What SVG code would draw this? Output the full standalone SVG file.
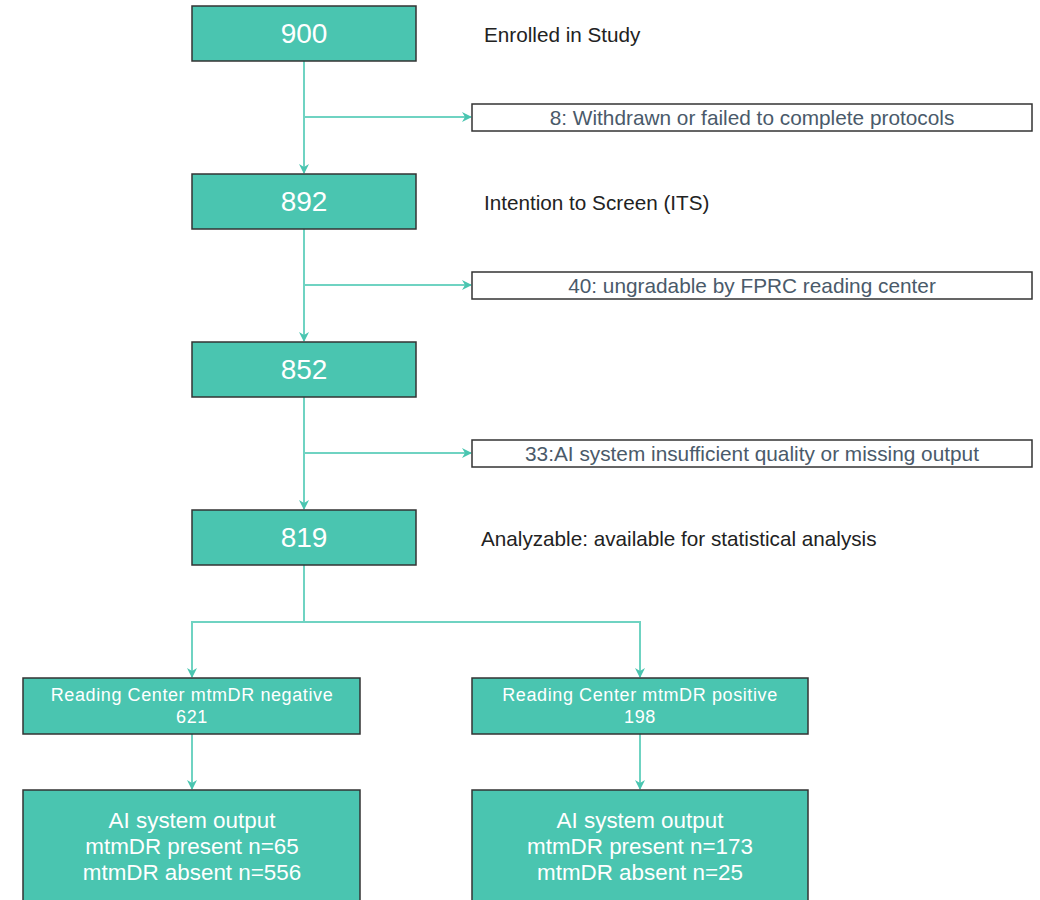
<svg xmlns="http://www.w3.org/2000/svg" width="1040" height="900" viewBox="0 0 1040 900">
<style>
.box{fill:#4ac5b0;stroke:#333;stroke-width:1.5}
.side{fill:#fff;stroke:#333;stroke-width:1.5}
.num{font-family:"Liberation Sans",Arial,sans-serif;font-size:28px;fill:#fff;text-anchor:middle}
.wt{font-family:"Liberation Sans",Arial,sans-serif;font-size:22.4px;fill:#fff;text-anchor:middle}
.st{font-family:"Liberation Sans",Arial,sans-serif;font-size:18px;letter-spacing:0.6px;fill:#fff;text-anchor:middle}
.lbl{font-family:"Liberation Sans",Arial,sans-serif;font-size:20.7px;fill:#222}
.sidet{font-family:"Liberation Sans",Arial,sans-serif;font-size:20.8px;fill:#4a5a6a;text-anchor:middle}
.ln{fill:none;stroke:#6fd3c2;stroke-width:2}
</style>
<defs>
<marker id="ah" markerWidth="10" markerHeight="10" refX="9" refY="5" orient="auto" markerUnits="userSpaceOnUse">
<path d="M0,0 L10,5 L0,10 L3,5 Z" fill="#4ac5b0"/>
</marker>
</defs>
<rect width="1040" height="900" fill="#fff"/>
<g id="connectors">
<path class="ln" d="M304,61 V173" marker-end="url(#ah)"/>
<path class="ln" d="M304,117 H471" marker-end="url(#ah)"/>
<path class="ln" d="M304,229 V341" marker-end="url(#ah)"/>
<path class="ln" d="M304,285 H471" marker-end="url(#ah)"/>
<path class="ln" d="M304,397 V509" marker-end="url(#ah)"/>
<path class="ln" d="M304,453 H471" marker-end="url(#ah)"/>
<path class="ln" d="M304,565 V622 H192 V677" marker-end="url(#ah)"/>
<path class="ln" d="M304,622 H640 V677" marker-end="url(#ah)"/>
<path class="ln" d="M192,734 V789" marker-end="url(#ah)"/>
<path class="ln" d="M640,734 V789" marker-end="url(#ah)"/>
</g>
<g id="n900"><rect class="box" x="192" y="6" width="224" height="55"/><text class="num" x="304" y="43">900</text></g>
<g id="l900"><text class="lbl" x="484" y="42">Enrolled in Study</text></g>
<g id="s8"><rect class="side" x="472" y="104" width="560" height="27"/><text class="sidet" x="752" y="125">8: Withdrawn or failed to complete protocols</text></g>
<g id="n892"><rect class="box" x="192" y="174" width="224" height="55"/><text class="num" x="304" y="211">892</text></g>
<g id="l892"><text class="lbl" x="484" y="210">Intention to Screen (ITS)</text></g>
<g id="s40"><rect class="side" x="472" y="272" width="560" height="27"/><text class="sidet" x="752" y="293">40: ungradable by FPRC reading center</text></g>
<g id="n852"><rect class="box" x="192" y="342" width="224" height="55"/><text class="num" x="304" y="379">852</text></g>
<g id="s33"><rect class="side" x="472" y="440" width="560" height="27"/><text class="sidet" x="752" y="461">33:AI system insufficient quality or missing output</text></g>
<g id="n819"><rect class="box" x="192" y="510" width="224" height="55"/><text class="num" x="304" y="547">819</text></g>
<g id="l819"><text class="lbl" x="481" y="546">Analyzable: available for statistical analysis</text></g>
<g id="neg"><rect class="box" x="23" y="678" width="337" height="56"/><text class="st" x="192" y="701">Reading Center mtmDR negative</text><text class="st" x="192" y="723">621</text></g>
<g id="pos"><rect class="box" x="472" y="678" width="336" height="56"/><text class="st" x="640" y="701">Reading Center mtmDR positive</text><text class="st" x="640" y="723">198</text></g>
<g id="aineg"><rect class="box" x="23" y="790" width="337" height="120"/><text class="wt" x="192" y="828">AI system output</text><text class="wt" x="192" y="854">mtmDR present n=65</text><text class="wt" x="192" y="880">mtmDR absent n=556</text></g>
<g id="aipos"><rect class="box" x="472" y="790" width="336" height="120"/><text class="wt" x="640" y="828">AI system output</text><text class="wt" x="640" y="854">mtmDR present n=173</text><text class="wt" x="640" y="880">mtmDR absent n=25</text></g>
</svg>
